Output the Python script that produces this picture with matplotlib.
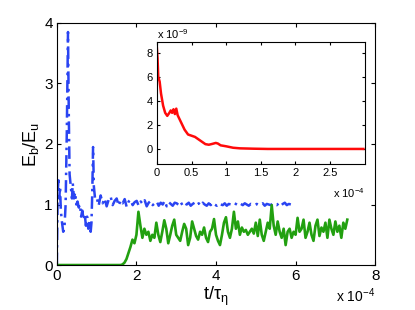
import numpy as np
import matplotlib
matplotlib.use("Agg")
import matplotlib.pyplot as plt

plt.rcParams['font.family'] = ['Liberation Sans', 'DejaVu Sans']
plt.rcParams['mathtext.fontset'] = 'custom'
plt.rcParams['mathtext.rm'] = 'Liberation Sans'
plt.rcParams['mathtext.it'] = 'Liberation Sans'

# ---- data (t in units of 1e-4) ----
blue_t_early = [0.0, 0.01, 0.02, 0.04, 0.06, 0.08, 0.10, 0.13, 0.16, 0.19, 0.22, 0.25,
                0.28, 0.30, 0.32, 0.35, 0.38, 0.40, 0.43, 0.46, 0.49, 0.52, 0.55, 0.58,
                0.61, 0.64, 0.67, 0.70, 0.73, 0.76, 0.79, 0.82, 0.85, 0.87, 0.89, 0.91,
                0.93, 0.96]
blue_y_early = [0.0, 0.6, 1.2, 1.4, 1.1, 1.3, 0.9, 0.7, 0.55, 0.6, 1.0, 2.2,
                3.85, 2.5, 1.5, 1.3, 1.1, 1.35, 1.1, 1.2, 1.0, 1.05, 0.95, 1.0,
                0.8, 0.9, 0.75, 0.85, 0.65, 0.8, 0.6, 0.75, 0.55, 0.7, 1.2, 1.95,
                1.3, 1.1]
blue_y_late = [1.12, 0.98, 1.15, 1.02, 1.10, 0.97, 1.08, 1.13, 0.99, 1.06,
               1.10, 0.98, 1.07, 1.02, 1.09, 0.96, 1.05, 1.08, 0.99, 1.04,
               1.06, 0.98, 1.05, 1.01, 1.07, 0.97, 1.03, 1.06, 0.99, 1.02,
               1.05, 0.98, 1.03, 1.00, 1.06, 0.97, 1.04, 1.01, 0.98, 1.03,
               1.02, 0.99, 1.04, 0.98, 1.02, 1.00, 1.03, 0.98, 1.01, 1.03,
               0.99, 1.02, 0.98, 1.03, 1.00, 0.98, 1.02, 0.99, 1.03, 1.00,
               0.98, 1.02, 1.00, 0.99, 1.02, 0.98, 1.01, 1.00, 0.99, 1.02,
               1.00, 0.98, 1.01, 0.99, 1.02, 1.00, 0.98, 1.01, 1.00, 0.99,
               1.01, 0.99, 1.00, 1.02, 0.98, 1.01, 1.00, 0.99, 1.02, 1.00,
               0.99, 1.02, 0.98, 1.01, 1.03, 0.99, 1.01, 1.00]
blue_t_late = np.linspace(1.0, 5.88, len(blue_y_late))

green_t_early = [0.0, 1.6, 1.65, 1.7, 1.75, 1.8, 1.85, 1.9, 1.95, 2.0, 2.05]
green_y_early = [0.0, 0.0, 0.01, 0.04, 0.1, 0.2, 0.3, 0.42, 0.36, 0.5, 0.88]
green_y_late = [0.65, 0.45, 0.6, 0.5, 0.55, 0.4, 0.5, 0.45, 0.7, 0.5,
                0.38, 0.55, 0.74, 0.6, 0.36, 0.5, 0.65, 0.75, 0.5, 0.45,
                0.4, 0.55, 0.68, 0.6, 0.33, 0.45, 0.72, 0.6, 0.48, 0.42,
                0.55, 0.5, 0.62, 0.45, 0.38, 0.55, 0.6, 0.76, 0.5, 0.4,
                0.33, 0.5, 0.7, 0.79, 0.55, 0.45, 0.6, 0.88, 0.6, 0.72,
                0.5, 0.62, 0.55, 0.58, 0.5, 0.55, 0.6, 0.52, 0.7, 0.48,
                0.75, 0.5, 0.4, 0.55, 0.7, 0.6, 0.99, 0.65, 0.5, 0.72,
                0.55, 0.45, 0.6, 0.33, 0.55, 0.6, 0.45, 0.55, 0.5, 0.78,
                0.55, 0.6, 0.75, 0.45, 0.55, 0.7, 0.5, 0.4, 0.65, 0.75,
                0.48, 0.62, 0.55, 0.7, 0.45, 0.75, 0.6, 0.5, 0.72, 0.55,
                0.65, 0.45, 0.7, 0.6, 0.75]
green_t_late = np.linspace(2.1, 7.3, len(green_y_late))

# inset: t in 1e-4, y in 1e-9
red_t = [0, 0.01, 0.02, 0.04, 0.06, 0.09, 0.12, 0.15, 0.18, 0.2, 0.22, 0.24, 0.26, 0.28,
         0.3, 0.35, 0.4, 0.45, 0.5, 0.55, 0.6, 0.65, 0.7, 0.75, 0.8, 0.85, 0.88, 0.92,
         1.0, 1.1, 1.2, 1.4, 1.6, 2.0, 2.5, 2.98]
red_y = [8.4, 7.5, 6.0, 5.6, 4.6, 3.6, 3.0, 2.75, 3.0, 3.2, 3.0, 3.3, 2.9, 3.35,
         2.8, 2.2, 1.6, 1.2, 1.1, 1.0, 0.8, 0.6, 0.4, 0.35, 0.42, 0.5, 0.45, 0.3,
         0.22, 0.1, 0.05, 0.02, 0.0, 0.0, 0.0, 0.0]

main_xticks = [0, 2, 4, 6, 8]
main_yticks = [0, 1, 2, 3, 4]
inset_xticks = [0, 0.5, 1, 1.5, 2, 2.5]
inset_xticklabels = ['0', '0.5', '1', '1.5', '2', '2.5']
inset_yticks = [0, 2, 4, 6, 8]

blue = '#2a44f2'
green = '#22a010'
red = '#ff0a0a'

fig = plt.figure(figsize=(4.15, 3.10), dpi=100)
ax = fig.add_axes([0.137, 0.145, 0.767, 0.781])
blue_t = list(blue_t_early) + list(blue_t_late)
blue_y = blue_y_early + blue_y_late
ax.plot(blue_t, blue_y, color=blue, lw=1.8, linestyle=(0, (5, 2, 1, 2)))
ax.plot(list(green_t_early) + list(green_t_late), green_y_early + green_y_late,
        color=green, lw=1.9)
ax.set_xlim(0, 8)
ax.set_ylim(0, 4)
ax.set_xticks(main_xticks)
ax.set_yticks(main_yticks)
ax.tick_params(direction='in', top=True, right=True, labelsize=11, length=3, pad=3)
ax.set_xlabel(r't/$\tau_{\eta}$', fontsize=13, labelpad=1)
ax.set_ylabel(r'E$_b$/E$_u$', fontsize=13, labelpad=2)
ax.text(1.0, -0.09, r'x 10$^{-4}$', transform=ax.transAxes, ha='right', va='top', fontsize=10)
for s in ax.spines.values():
    s.set_linewidth(0.8)

ins = fig.add_axes([0.378, 0.471, 0.501, 0.394])
ins.plot(red_t, red_y, color=red, lw=1.8)
ins.set_xlim(0, 3)
ins.set_ylim(-1.25, 8.9)
ins.set_xticks(inset_xticks)
ins.set_xticklabels(inset_xticklabels)
ins.set_yticks(inset_yticks)
ins.tick_params(direction='in', top=True, right=True, labelsize=8, length=2.5, pad=3)
ins.text(0.0, 1.01, r'x 10$^{-9}$', transform=ins.transAxes, ha='left', va='bottom', fontsize=8)
ins.text(1.0, -0.18, r'x 10$^{-4}$', transform=ins.transAxes, ha='right', va='top', fontsize=8)
for s in ins.spines.values():
    s.set_linewidth(0.8)

fig.savefig('out.png', dpi=100)
